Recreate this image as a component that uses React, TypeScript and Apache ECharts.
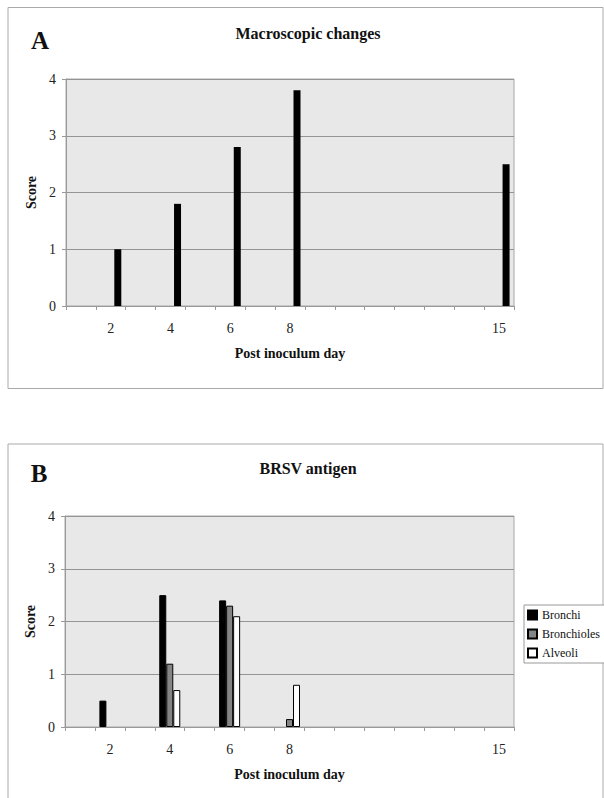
import React, { useEffect, useRef } from "react";
import * as echarts from "echarts";

const days = ["1", "2", "3", "4", "5", "6", "7", "8", "9", "10", "11", "12", "13", "14", "15"];
const xTickLabels = ["2", "4", "6", "8", "15"];
const scoreTicks = [0, 1, 2, 3, 4];

const macroscopic = [null, 1.0, null, 1.8, null, 2.8, null, 3.8, null, null, null, null, null, null, 2.5];

const bronchi = [null, 0.5, null, 2.5, null, 2.4, null, null, null, null, null, null, null, null, null];
const bronchioles = [null, null, null, 1.2, null, 2.3, null, 0.15, null, null, null, null, null, null, null];
const alveoli = [null, null, null, 0.7, null, 2.1, null, 0.8, null, null, null, null, null, null, null];
const emptySeries = days.map(() => null);

const FONT = "Liberation Serif, Times New Roman, serif";

export default function App() {
  const ref = useRef<HTMLDivElement>(null);

  useEffect(() => {
    if (!ref.current) return;
    const chart = echarts.init(ref.current, undefined, { renderer: "svg" });

    const makeX = (gridIndex: number) => ({
      type: "category" as const,
      gridIndex,
      data: days,
      name: "Post inoculum day",
      nameLocation: "middle" as const,
      nameGap: 40,
      nameTextStyle: { fontFamily: FONT, fontWeight: "bold" as const, fontSize: 14, color: "#111" },
      axisLine: { show: true, lineStyle: { color: "#999", width: 1 } },
      axisTick: { show: true, interval: 0, alignWithLabel: false, length: 4, lineStyle: { color: "#999" } },
      axisLabel: {
        interval: 0,
        margin: 15,
        fontFamily: FONT,
        fontSize: 14,
        color: "#222",
        formatter: (v: string) => (xTickLabels.includes(v) ? v : ""),
      },
      splitLine: { show: false },
    });

    const makeY = (gridIndex: number) => ({
      type: "value" as const,
      gridIndex,
      min: scoreTicks[0],
      max: scoreTicks[scoreTicks.length - 1],
      interval: 1,
      name: "Score",
      nameLocation: "middle" as const,
      nameRotate: 90,
      nameGap: 27,
      nameTextStyle: { fontFamily: FONT, fontWeight: "bold" as const, fontSize: 14, color: "#111" },
      axisLine: { show: true, lineStyle: { color: "#999", width: 1 } },
      axisTick: { show: true, length: 4, lineStyle: { color: "#999" } },
      axisLabel: { margin: 10, fontFamily: FONT, fontSize: 14, color: "#222" },
      splitLine: { show: true, lineStyle: { color: "#949494", width: 1 } },
    });

    const barBase = { type: "bar" as const, barWidth: 7, barGap: "0%", barCategoryGap: "0%" };

    chart.setOption({
      animation: false,
      backgroundColor: "#ffffff",
      grid: [
        { left: 66, top: 79, width: 448, height: 227, show: true, backgroundColor: "#e8e8e8", borderColor: "#a8a8a8", borderWidth: 1 },
        { left: 65, top: 516, width: 449, height: 211, show: true, backgroundColor: "#e8e8e8", borderColor: "#a8a8a8", borderWidth: 1 },
      ],
      xAxis: [makeX(0), makeX(1)],
      yAxis: [makeY(0), makeY(1)],
      legend: {
        data: ["Bronchi", "Bronchioles", "Alveoli"],
        orient: "vertical",
        left: 524,
        top: 605,
        width: 78,
        padding: [3, 6, 3, 3],
        itemGap: 5,
        itemWidth: 9,
        itemHeight: 9,
        icon: "rect",
        borderColor: "#999",
        borderWidth: 1,
        backgroundColor: "#ffffff",
        textStyle: { fontFamily: FONT, fontSize: 12, color: "#111", lineHeight: 14 },
      },
      series: [
        { ...barBase, name: "pad1", xAxisIndex: 0, yAxisIndex: 0, data: emptySeries },
        { ...barBase, name: "pad2", xAxisIndex: 0, yAxisIndex: 0, data: emptySeries },
        {
          ...barBase,
          name: "Macroscopic changes",
          xAxisIndex: 0,
          yAxisIndex: 0,
          data: macroscopic,
          itemStyle: { color: "#000000" },
        },
        {
          ...barBase,
          name: "Bronchi",
          xAxisIndex: 1,
          yAxisIndex: 1,
          data: bronchi,
          itemStyle: { color: "#000000", borderColor: "#000", borderWidth: 1 },
        },
        {
          ...barBase,
          name: "Bronchioles",
          xAxisIndex: 1,
          yAxisIndex: 1,
          data: bronchioles,
          itemStyle: { color: "#858585", borderColor: "#000", borderWidth: 1 },
        },
        {
          ...barBase,
          name: "Alveoli",
          xAxisIndex: 1,
          yAxisIndex: 1,
          data: alveoli,
          itemStyle: { color: "#ffffff", borderColor: "#000", borderWidth: 1 },
        },
      ],
      graphic: [
        { type: "rect", shape: { x: 8, y: 7.5, width: 595, height: 381 }, style: { fill: "none", stroke: "#aaa", lineWidth: 1 }, silent: true },
        { type: "rect", shape: { x: 8, y: 444, width: 595, height: 370 }, style: { fill: "none", stroke: "#aaa", lineWidth: 1 }, silent: true },
        { type: "text", x: 40, y: 40, style: { text: "A", font: `bold 25px ${FONT}`, fill: "#111", textAlign: "center", textVerticalAlign: "middle" } },
        { type: "text", x: 308, y: 33, style: { text: "Macroscopic changes", font: `bold 16px ${FONT}`, fill: "#111", textAlign: "center", textVerticalAlign: "middle" } },
        { type: "text", x: 39, y: 473, style: { text: "B", font: `bold 25px ${FONT}`, fill: "#111", textAlign: "center", textVerticalAlign: "middle" } },
        { type: "text", x: 308, y: 468, style: { text: "BRSV antigen", font: `bold 16px ${FONT}`, fill: "#111", textAlign: "center", textVerticalAlign: "middle" } },
      ],
    });

    return () => chart.dispose();
  }, []);

  return <div ref={ref} style={{ position: "absolute", left: 0, top: 0, width: 604, height: 798 }} />;
}
